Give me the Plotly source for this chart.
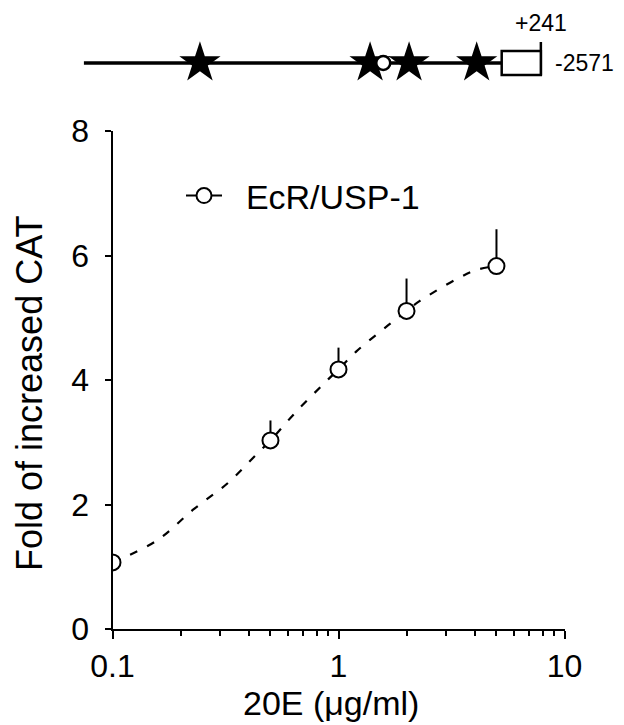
import plotly.graph_objects as go

# ---- main dose-response data ----
conc = [0.1, 0.5, 1, 2, 5]                  # 20E (ug/ml)
fold = [1.07, 3.03, 4.17, 5.11, 5.83]       # fold of increased CAT
err_up = [0.0, 0.32, 0.35, 0.52, 0.59]

# fitted curve (dashed)
curve_x = [0.1, 0.157, 0.228, 0.325, 0.435, 0.5, 0.653, 0.90, 1.0, 1.20, 1.66, 2.0, 2.29, 3.33, 4.09, 5.0]
curve_y = [1.07, 1.42, 1.92, 2.35, 2.81, 3.03, 3.50, 4.01, 4.17, 4.46, 4.88, 5.11, 5.27, 5.62, 5.77, 5.83]

x_ticks = [0.1, 1, 10]
x_ticktext = ["0.1", "1", "10"]
x_minor = [0.2, 0.3, 0.4, 0.5, 0.6, 0.7, 0.8, 0.9, 2, 3, 4, 5, 6, 7, 8, 9]
y_ticks = [0, 2, 4, 6, 8]
series_name = "EcR/USP-1"

# ---- promoter schematic (bp) ----
promoter_start = -2571
tss = 0
exon_end = 241
site_pos = [-1857, -810, -570, -154]
circle_pos = [-729]

FONT = "Arial, Liberation Sans, Helvetica, sans-serif"
OFF = 8                      # page body margin of the html page
W, H = 624 - OFF, 725 - OFF
ml, mr, mt, mb = 50, 10, 2, 2
pw, ph = W - ml - mr, H - mt - mb

def fx(px):
    return (px - OFF - ml) / pw

def fy(py):
    return 1 - (py - OFF - mt) / ph

BP_PX = 0.1625               # schematic scale (px per bp)
TSS_PX = 501.7

fig = go.Figure()

# dashed fitted curve
fig.add_trace(go.Scatter(x=curve_x, y=curve_y, mode="lines", line=dict(color="black", width=2.2, dash="8px,11px"),
                         line_shape="spline", showlegend=False, hoverinfo="skip"))
# data points with upper error bars
fig.add_trace(go.Scatter(x=conc, y=fold, mode="markers",
                         marker=dict(symbol="circle", size=16, color="white", line=dict(color="black", width=2)),
                         error_y=dict(type="data", symmetric=False, array=err_up, arrayminus=[0]*len(err_up),
                                      width=0, thickness=2, color="black"),
                         showlegend=False))
# legend entry
fig.add_trace(go.Scatter(x=[None], y=[None], mode="lines+markers", name="\u00a0\u00a0" + series_name,
                         line=dict(color="black", width=2),
                         marker=dict(symbol="circle", size=15, color="white", line=dict(color="black", width=2))))

# promoter schematic
fig.add_trace(go.Scatter(x=[promoter_start, tss], y=[0, 0], mode="lines", line=dict(color="black", width=3.5),
                         xaxis="x2", yaxis="y2", showlegend=False, hoverinfo="skip"))
fig.add_trace(go.Scatter(x=site_pos, y=[0]*len(site_pos), mode="markers",
                         marker=dict(symbol="star", size=31, color="black", line=dict(width=0)),
                         xaxis="x2", yaxis="y2", showlegend=False, cliponaxis=False))
fig.add_trace(go.Scatter(x=circle_pos, y=[0]*len(circle_pos), mode="markers",
                         marker=dict(symbol="circle", size=14, color="white", line=dict(color="black", width=2.5)),
                         xaxis="x2", yaxis="y2", showlegend=False, cliponaxis=False))
fig.add_trace(go.Scatter(x=[exon_end, exon_end], y=[-0.24, 0.42], mode="lines", line=dict(color="black", width=2.5),
                         xaxis="x2", yaxis="y2", showlegend=False, hoverinfo="skip"))
fig.add_shape(type="rect", xref="x2", yref="y2", x0=tss, x1=exon_end, y0=-0.24, y1=0.24,
              line=dict(color="black", width=2.5), fillcolor="white")

fig.add_annotation(x=exon_end, y=0.80, xref="x2", yref="y2", text="+" + str(exon_end), showarrow=False,
                   font=dict(size=23, color="black", family=FONT), xanchor="center", yanchor="middle")
fig.add_annotation(x=exon_end, y=0, xref="x2", yref="y2", text=str(promoter_start), showarrow=False,
                   font=dict(size=23, color="black", family=FONT), xanchor="left", yanchor="middle", xshift=12)

# axis titles
fig.add_annotation(x=fx(331), y=fy(703), xref="paper", yref="paper", text="20E (μg/ml)", showarrow=False,
                   font=dict(size=34, color="black", family=FONT), xanchor="center", yanchor="middle")
fig.add_annotation(x=fx(29), y=fy(394), xref="paper", yref="paper", text="Fold of increased CAT", showarrow=False,
                   textangle=-90, font=dict(size=36, color="black", family=FONT), xanchor="center", yanchor="middle")

fig.update_layout(
    width=W, height=H,
    margin=dict(l=ml, r=mr, t=mt, b=mb),
    paper_bgcolor="white", plot_bgcolor="white",
    font=dict(family=FONT, color="black"),
    xaxis=dict(type="log", range=[-1, 1], domain=[fx(112.5), fx(564.5)], anchor="y", automargin=False,
               tickvals=x_ticks, ticktext=x_ticktext, ticks="outside", ticklen=8, tickwidth=2, tickcolor="black",
               minor=dict(tickvals=x_minor, ticks="outside", ticklen=4.5, tickwidth=2, tickcolor="black"),
               showline=True, linewidth=2, linecolor="black", showgrid=False, zeroline=False,
               ticklabelstandoff=0,
               tickfont=dict(size=32, color="black", family=FONT)),
    yaxis=dict(range=[0, 8], domain=[fy(629), fy(131)], anchor="x", automargin=False,
               tickvals=y_ticks, ticks="outside", ticklen=6, tickwidth=2, tickcolor="black",
               showline=True, linewidth=2, linecolor="black", showgrid=False, zeroline=False,
               ticklabelstandoff=9,
               tickfont=dict(size=32, color="black", family=FONT)),
    xaxis2=dict(range=[(OFF + ml - TSS_PX) / BP_PX, (OFF + W - mr - TSS_PX) / BP_PX], domain=[0, 1],
                anchor="y2", visible=False),
    yaxis2=dict(range=[-1, 1], domain=[fy(63 + 50), fy(63 - 50)], anchor="x2", visible=False),
    legend=dict(x=fx(181), y=fy(196), xanchor="left", yanchor="middle", bgcolor="rgba(0,0,0,0)",
                font=dict(size=34, color="black", family=FONT), itemwidth=36),
    showlegend=True,
)

fig.write_html("out.html")
